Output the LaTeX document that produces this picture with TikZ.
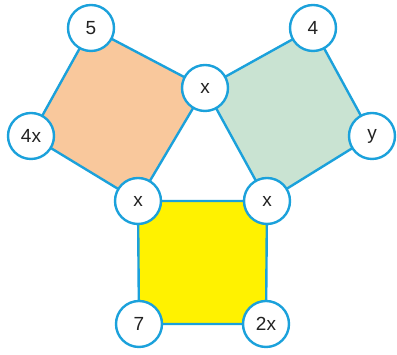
\documentclass[tikz,border=0pt]{standalone}
\usepackage{fontspec}
\setmainfont{Liberation Sans}
\definecolor{bblue}{HTML}{1BA1DB}
\definecolor{orng}{HTML}{F9C89C}
\definecolor{grn}{HTML}{C9E3D2}
\definecolor{yel}{HTML}{FFF200}
\definecolor{txt}{HTML}{222222}
\begin{document}
\begin{tikzpicture}[x=1pt,y=1pt,
  vtx/.style={circle,draw=bblue,line width=2.4pt,fill=white,minimum size=46pt,inner sep=0pt,font=\fontsize{19}{19}\selectfont,text=txt},
  face/.style={draw=bblue,line width=2.4pt,line join=miter}]
\useasboundingbox (0,0) rectangle (397,355);
\coordinate (c5) at (91,327);
\coordinate (cxt) at (205,267);
\coordinate (c4x) at (31,219);
\coordinate (cxl) at (138,154);
\coordinate (cxr) at (267,154);
\coordinate (c4) at (313,327);
\coordinate (cy) at (372,219);
\coordinate (c7) at (139,31);
\coordinate (c2x) at (266,31);
\fill[orng] (c5) -- (cxt) -- (cxl) -- (c4x) -- cycle;
\fill[grn] (cxt) -- (c4) -- (cy) -- (cxr) -- cycle;
\fill[yel] (cxl) -- (cxr) -- (c2x) -- (c7) -- cycle;
\draw[face] (c5) -- (cxt) -- (cxl) -- (c4x) -- cycle;
\draw[face] (cxt) -- (c4) -- (cy) -- (cxr) -- cycle;
\draw[face] (cxl) -- (cxr) -- (c2x) -- (c7) -- cycle;
\node[vtx] (n5) at (c5) {5};
\node[vtx] (nxt) at (cxt) {x};
\node[vtx] (n4x) at (c4x) {4x};
\node[vtx] (nxl) at (cxl) {x};
\node[vtx] (nxr) at (cxr) {x};
\node[vtx] (n4) at (c4) {4};
\node[vtx] (ny) at (cy) {y};
\node[vtx] (n7) at (c7) {7};
\node[vtx] (n2x) at (c2x) {2x};
\end{tikzpicture}
\end{document}
